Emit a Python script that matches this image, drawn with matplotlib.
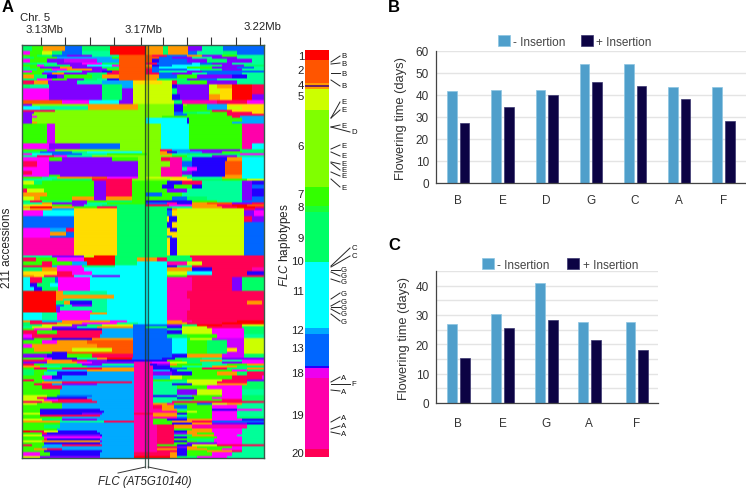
import numpy as np
import matplotlib
matplotlib.use("Agg")
import matplotlib.pyplot as plt
from matplotlib.colors import ListedColormap
from matplotlib.patches import Patch

plt.rcParams['font.family'] = ['Liberation Sans', 'DejaVu Sans']
plt.rcParams['mathtext.fontset'] = 'custom'
plt.rcParams['mathtext.it'] = 'Liberation Sans:italic'
plt.rcParams['mathtext.rm'] = 'Liberation Sans'

# ---------- data ----------
hap_palette = {
    'r': '#ff0000', 'o': '#ff5500', 'O': '#ff9900', 'y': '#ffdd00', 'l': '#ccff00',
    'g': '#80ff00', 'G': '#33ff00', 's': '#00ff66', 't': '#00ff99', 'c': '#00ffff',
    'b': '#00aaff', 'B': '#0066ff', 'd': '#2200ff', 'v': '#8000ff', 'p': '#cc00ff',
    'm': '#ff00ff', 'h': '#ff00aa', 'k': '#ff0055',
}
# each band: accessions in band, then run-length segments "<end marker><haplotype>"
hap_bands_top = [
    (3, "10s 21G 43O 60B 88s 124r 141O 146s 166O 180v 201t 242B"),
    (2, "8m 20G 30l 40s 60B 88t 124r 141O 146s 166O 175B 201t 215s 242B"),
    (1, "15G 30s 45B 70v 97t 124o 130o 145k 165B 180O 200v 215G 242t"),
    (1, "12s 35G 60b 90b 97G 124o 137o 150B 170v 190t 215v 242t"),
    (2, "8m 25G 42v 75p 97b 124o 130o 137d 165B 185v 205s 230v 242t"),
    (1, "15s 35t 60v 80m 97s 124o 135k 170B 178c 190B 210v 242t"),
    (1, "15G 22m 48s 65v 90c 97m 124o 130O 137d 150B 178c 200s 222v 242s"),
    (1, "8s 18G 38v 50O 80v 97s 124o 130o 137B 165c 190G 215v 232B 242t"),
    (1, "15s 30G 45m 70O 85v 97G 124o 130k 137B 165B 178c 200s 220v 242t"),
    (1, "10m 22G 35b 60t 80v 90d 97k 124o 130k 137B 165t 180v 215B 242B"),
    (1, "20G 30v 42O 65v 85s 97k 124o 137k 150B 170v 185t 220B 242t"),
    (2, "12O 25s 35d 42v 70G 80s 97O 124o 137O 155B 175G 210v 225d 242t"),
    (1, "15s 30m 45G 62v 75s 85t 97d 124o 135O 165s 178v 195B 215t 242t"),
    (2, "12k 26O 55v 80t 104b 111b 124y 140y 150l 155k 168s 185G 215v 242t"),
    (2, "8s 27t 40v 80v 100s 111b 124l 150l 155d 157v 187v 195l 210O 230r 242k"),
    (3, "27m 80v 100s 111v 124l 150l 155s 187v 198l 210y 230r 242k"),
    (3, "27m 80v 100s 111v 124l 150l 158d 187v 198O 210y 230r 242v"),
    (2, "40o 67m 97c 111v 124l 152l 160s 195h 225k 242m"),
    (1, "10v 66g 116O 124g 152g 161d 165g 185G 205b 242y"),
    (2, "18c 55t 66t 116O 124g 152g 161d 185G 205b 220l 242y"),
    (1, "33k 124g 152g 161d 190G 210k 242y"),
    (1, "12v 33g 124g 152g 161B 175s 188t 205G 230k 242y"),
    (1, "10v 124g 152g 165B 205G 220k 242k"),
    (1, "10v 15m 124g 140g 165G 210G 218k 242b"),
    (2, "10v 124g 139c 165c 167d 220G 242b"),
    (1, "10v 15O 124g 139c 165c 167d 210G 242b"),
    (10, "25G 33p 139g 167c 220G 242h"),
    (3, "27m 58v 98B 139g 167c 220G 230h 242c"),
    (1, "25G 33p 138g 150k 168b 218v 242s"),
    (1, "18s 50B 65t 120c 138g 145O 155d 180b 200v 220G 242s"),
    (1, "10m 30c 60B 85t 125G 138g 150O 165t 218s 242m"),
    (1, "15t 32k 45m 70t 95g 124g 150g 165G 190t 215v 242t"),
    (2, "27m 40G 60v 90v 116G 139g 148k 160h 170s 205d 220O 242c"),
    (3, "15k 27m 116v 139g 148g 160h 170B 203d 220o 242c"),
    (2, "27m 116v 139g 148h 160h 165t 175m 203d 220o 242c"),
    (2, "10k 27m 116v 139g 150h 160h 170v 203d 220o 242c"),
    (1, "27m 38G 116v 139g 150h 160h 170s 203d 220O 242c"),
    (1, "20G 35t 70O 85o 116m 124g 150l 165y 200t 220O 242c"),
    (1, "30t 70s 110k 116g 124g 148g 170y 200s 225G 242l"),
    (2, "12l 20s 72G 84v 110k 124G 145G 160d 180k 220t 230v 242d"),
    (2, "18G 72G 84v 110k 124G 140G 152d 170G 180d 220t 230v 242B"),
    (2, "5k 22l 72G 84v 110k 124G 145G 165v 180t 220t 230v 242d"),
    (2, "25O 50G 72G 84v 110k 124G 140B 160G 185t 220t 230v 242d"),
    (2, "12l 18O 50G 72O 84v 110O 124G 150G 165B 185s 220t 230v 242B"),
    (1, "8s 20k 50s 65v 85G 110s 124G 170d 195G 220t 242B"),
    (1, "20t 30O 48v 65v 85t 112G 124G 145B 155h 170d 185O 210o 230v 242k"),
    (1, "10l 30y 50G 62v 80t 112s 124s 147k 170m 195O 210k 225r 242o"),
    (1, "8O 30r 52O 75G 95k 124s 150s 170t 200O 215k 233r 242k"),
    (1, "8l 30O 52b 95y 124s 145s 150d 155O 222l 233k 242v"),
    (3, "21m 52c 95y 145s 150B 155y 222l 232v 242m"),
    (3, "52B 95y 145s 147y 155d 222l 230k 242v"),
    (3, "35B 52B 95y 145s 150d 155y 222l 242B"),
    (2, "28m 44b 52k 95y 145s 148y 155d 222l 242B"),
    (2, "28m 44O 52B 95y 145s 150y 155y 222l 242B"),
    (1, "28m 52B 95y 145s 150B 155y 222l 242B"),
    (9, "52h 95y 145s 148y 155d 222l 242B"),
]
hap_bands_mid = [
    (1, "30t 62v 72l 93r 115s 145s 168s 242k"),
    (2, "14k 35G 62m 93r 115s 135O 145k 170s 242k"),
    (2, "20G 30k 50G 65b 93r 115s 145c 165h 180l 242k"),
    (1, "30k 35b 60m 93s 115c 145c 155d 170t 242k"),
    (2, "20s 35O 62m 115c 145c 155O 170O 190d 230k 242h"),
    (2, "35y 50k 70m 115c 145c 165l 190c 225k 242d"),
    (1, "12O 22y 52k 70c 98v 115c 145c 165G 180k 242k"),
    (3, "8c 20k 33s 36B 68m 145c 170h 210k 220v 242s"),
    (2, "8c 15d 28s 36c 68m 145c 170h 210k 220v 242s"),
    (2, "12c 20d 30s 36s 68m 145c 170h 210k 220v 242s"),
    (2, "34r 41O 85t 145c 165h 242k"),
    (2, "34r 41O 92O 145c 165h 242k"),
    (1, "34r 41O 85t 145c 168h 242k"),
    (2, "34r 42s 48O 70d 85t 145c 168h 225k 240O 242k"),
    (1, "34r 42B 50t 70v 85t 145c 168h 242k"),
    (2, "34r 38v 70t 85t 145c 168h 242k"),
    (1, "34r 38v 70m 85t 145c 165h 242k"),
    (1, "20c 35t 68m 85O 145c 165h 242k"),
    (2, "20c 35t 68m 145c 165h 242k"),
    (1, "20c 35t 68m 95c 145c 165h 242k"),
    (1, "8O 20k 40b 88O 105m 116c 145c 160O 170h 215k 242r"),
    (1, "8s 35k 60O 95m 116t 145c 165O 200k 242r"),
    (1, "20s 50l 65v 80s 111l 124B 145B 160v 175s 200r 220k 242l"),
    (1, "10t 30l 55v 75t 111O 124B 145s 160d 185l 205k 220k 242s"),
    (1, "12G 30m 80d 111b 145B 160s 190l 222m 242s"),
    (2, "15k 35G 80k 111b 145B 160d 190l 222m 242s"),
    (2, "10m 40k 78k 111b 145B 165s 195G 222m 242t"),
    (1, "12v 30G 70d 111O 150B 165c 168s 190l 222p 242l"),
    (2, "20G 35m 65O 111o 150B 165c 185G 205s 222p 242l"),
    (2, "10m 35O 75O 111o 150B 165c 185G 205s 222p 242l"),
    (2, "12G 50O 90l 111o 150B 165c 185G 205s 215y 222p 242l"),
    (1, "30G 45d 111o 150B 165c 185G 205s 222p 242l"),
    (2, "25v 45d 70G 111k 150B 165d 200O 222p 242s"),
]
hap_bands_low = [
    (1, "22G 30m 55d 75t 85O 110r 140B 153d 180s 200t 242v"),
    (1, "25k 50O 65k 85v 112d 145d 160G 178s 200O 220t 242m"),
    (1, "25v 55O 70m 112v 130h 148m 165l 180s 200t 220v 242m"),
    (1, "12k 22G 60s 80v 112t 128h 135d 148v 155O 180G 205t 225G 242O"),
    (1, "18O 38t 65s 112b 131h 148d 160G 190t 215O 242s"),
    (1, "12G 25k 40G 80k 112O 131h 150d 165B 180G 205k 225s 242O"),
    (1, "12s 25G 65b 85O 112O 131h 148b 155d 170s 210G 225m 242s"),
    (2, "12s 22G 35t 65d 112b 131h 150v 170d 195G 215O 225s 242k"),
    (2, "20G 30m 40d 112b 131h 148b 160l 210G 240k 242m"),
    (1, "12k 22G 80b 112b 131h 150G 165s 200l 225k 242v"),
    (1, "20G 40O 110k 112b 131h 165t 195l 225k 242s"),
    (1, "12G 30k 40b 75v 112b 131h 150t 170d 195l 225O 242s"),
    (2, "20G 40k 112b 131h 155t 185G 220m 242s"),
    (3, "22G 38G 75b 112b 131h 155t 175v 200l 220m 242t"),
    (1, "25l 35G 70B 112b 131h 155d 170t 200G 220m 242s"),
    (1, "15l 25k 65d 112b 131h 155t 172d 190G 220m 242s"),
    (1, "22l 36m 70k 112b 131h 155t 170s 200G 220k 242s"),
    (1, "20k 30O 75k 112b 131h 150t 242k"),
    (1, "15l 40G 112b 131h 145O 152h 165G 175G 190B 205l 220O 242t"),
    (2, "22G 40G 112b 131h 140k 152O 165B 190G 215m 242t"),
    (1, "18G 22d 78d 112b 131h 140h 155O 165t 190G 215d 240m 242t"),
    (1, "18G 60d 82d 112b 131h 155h 165G 175l 190G 215m 242t"),
    (1, "18l 60d 80v 112b 131k 155O 165d 190G 215m 242t"),
    (1, "18G 25k 78k 112b 131h 155O 165t 190G 215m 242t"),
    (1, "18G 40G 112b 131h 155h 165B 190G 215m 242s"),
    (1, "20l 40s 75v 112b 131h 145G 165d 190O 220m 242d"),
    (1, "20O 38O 82t 85k 112k 131h 150G 170O 190k 215B 242B"),
    (1, "20G 38G 65b 112b 131h 150G 170d 190O 210v 225v 242d"),
    (2, "22G 38s 80b 112b 135h 152k 170O 225h 242t"),
    (1, "22G 35G 80b 112b 135h 152k 170G 190O 220m 242t"),
    (1, "8r 22k 36l 75d 112b 135h 152k 165d 190O 220m 242t"),
    (1, "20G 25k 78d 112b 135h 152k 165v 175O 192G 220m 242t"),
    (1, "20l 78v 80d 112b 135h 152k 170s 192O 215m 242t"),
    (1, "22G 80m 112b 135h 152k 165d 195G 220m 242t"),
    (1, "22G 25k 78d 112b 135h 152k 165G 192s 220m 242t"),
    (1, "20l 78O 80v 112b 135h 152k 165d 175G 192s 220m 242t"),
    (1, "22G 78d 82b 112b 135h 152k 165G 195v 220m 242t"),
    (1, "10k 22G 40b 80k 112b 135h 155G 170d 195l 242k"),
    (1, "20G 35b 78b 112b 135h 155k 165v 175O 210G 220m 242t"),
    (1, "12G 25O 40k 80b 112b 135h 155O 165d 185O 200G 220m 242t"),
    (1, "22G 30d 80d 112b 135h 155k 165d 185G 210O 220k 242t"),
    (2, "18m 28G 78d 112b 148k 155O 165d 190G 210m 242t"),
    (1, "18l 78v 112b 148r 155O 175s 205m 242t"),
]
heat_tick_labels = ["3.13Mb", "3.17Mb", "3.22Mb"]

strip_sizes = [5, 12, 1, 1, 1, 11, 40, 10, 3, 26, 34, 3, 17, 1, 5, 37, 4]
strip_colors = ['#ff0000', '#ff5500', '#ff9900', '#6a2060', '#ff9900', '#ccff00', '#80ff00',
                '#33ff00', '#19ff33', '#00ff66', '#00ffff', '#00aaff', '#0066ff', '#2200ff',
                '#ee00ee', '#ff00aa', '#ff0055']
strip_numbers = ["1", "2", "4", "5", "6", "7", "8", "9", "10", "11", "12", "13", "18", "19", "20"]

hap_letters = list("BBBBEEEDEEEEEECCGGGGGGGGAFAAAA")

cats_b = ["B", "E", "D", "G", "C", "A", "F"]
minus_b = [42, 42.3, 42.3, 54, 54, 43.5, 43.5]
plus_b = [27.5, 34.7, 40, 45.7, 44.3, 38.3, 28]

cats_c = ["B", "E", "G", "A", "F"]
minus_c = [26.8, 30.2, 41, 27.7, 27.7]
plus_c = [15.3, 25.5, 28.2, 21.5, 18]

# ---------- layout (pixel positions) ----------
W, H = 746, 489
strip_num_y = [57, 71, 86, 97, 147, 195, 208, 239, 262, 292, 331, 349, 374, 416, 454]
hap_label_y = [57, 64, 74, 87, 103, 111, 126, 133, 146, 157, 165, 171, 177, 188,
               249, 257, 271, 277, 283, 294, 302, 308, 315, 322, 378, 385, 392, 418, 427, 435]
hap_anchor_y = [63, 65, 74, 81, 119, 119, 128, 128, 150, 153, 163, 164, 173, 180,
                267, 268, 271, 273, 280, 300, 307, 308, 310, 315, 383, 385, 391, 423, 430, 433]
heat_ticks_px = [41, 65, 90, 114, 141, 163, 187, 211, 236, 260]

fig = plt.figure(figsize=(W / 100, H / 100), dpi=100)


def ax_px(l, t, r, b, **kw):
    return fig.add_axes([l / W, 1 - b / H, (r - l) / W, (b - t) / H], **kw)


# ---------- A: haplotype matrix ----------
keys = list(hap_palette)
bands = hap_bands_top + hap_bands_mid + hap_bands_low
n_cols = 242
rows = []
for n, spec in bands:
    row = np.zeros(n_cols, dtype=int)
    start = 0
    for tok in spec.split():
        end, code = int(tok[:-1]), tok[-1]
        row[start:end] = keys.index(code)
        start = end
    rows.extend([row] * n)
matrix = np.array(rows)

# RGB cells so that the smoothing blends neighbouring colours, not palette indices
rgb = np.array([matplotlib.colors.to_rgb(hap_palette[k]) for k in keys])[matrix]

ax = ax_px(22, 46, 264, 459)
ax.imshow(rgb, aspect='auto', interpolation='bilinear', extent=(0, n_cols, matrix.shape[0], 0))
ax.set_xticks([])
ax.set_yticks([])
for s in ax.spines.values():
    s.set_color('#3a5a4a')
    s.set_linewidth(1.0)
ax.axvspan(123, 126, color='black', alpha=0.12, lw=0)

# ---------- strip ----------
sx = ax_px(305, 51, 329, 458)
strip_vals = np.repeat(np.arange(len(strip_sizes)), strip_sizes)[:, None]
sx.imshow(strip_vals, cmap=ListedColormap(strip_colors), aspect='auto', interpolation='nearest',
          vmin=0, vmax=len(strip_colors) - 1)
sx.axis('off')

# ---------- overlay ----------
ov = fig.add_axes([0, 0, 1, 1], facecolor='none')
ov.set_xlim(0, W)
ov.set_ylim(H, 0)
ov.axis('off')
ink = '#222222'
for x in heat_ticks_px:
    ov.plot([x, x], [38, 46], color='#333333', lw=0.8, solid_capstyle='butt')
for x in (145.3, 148.2):
    ov.plot([x, x], [46, 469], color='#1c3a30', lw=0.9, alpha=0.8, solid_capstyle='butt')
ov.plot([118, 145.3], [474, 468], color='#333333', lw=0.7)
ov.plot([148.2, 177], [468, 474], color='#333333', lw=0.7)

ov.text(2, 7, "A", fontsize=12, fontweight='bold', va='center', color='black')
ov.text(388, 7, "B", fontsize=12, fontweight='bold', va='center', color='black')
ov.text(388, 246, "C", fontsize=12, fontweight='bold', va='center', color='black')
ov.text(20, 18, "Chr. 5", fontsize=8.2, va='center', color=ink)
ov.text(44, 30, heat_tick_labels[0], fontsize=8.2, ha='center', va='center', color=ink)
ov.text(143, 30, heat_tick_labels[1], fontsize=8.2, ha='center', va='center', color=ink)
ov.text(262, 27, heat_tick_labels[2], fontsize=8.2, ha='center', va='center', color=ink)
ov.text(7, 248, "211 accessions", fontsize=8.5, rotation=90, ha='center', va='center', color=ink)
ov.text(285, 245, r"$\mathit{FLC}$ haplotypes", fontsize=8.5, rotation=90, ha='center', va='center', color=ink)
ov.text(145, 482, "FLC (AT5G10140)", fontsize=8.3, style='italic', ha='center', va='center', color=ink)

for lab, y in zip(strip_numbers, strip_num_y):
    ov.text(304, y, lab, fontsize=8.2, ha='right', va='center', color=ink)
for letter, ya, yl in zip(hap_letters, hap_anchor_y, hap_label_y):
    xt = 354 if letter in "DFC" else 344
    ov.text(xt, yl, letter, fontsize=5.6, ha='center', va='center', color='#111111')
    ov.plot([331, xt - 4], [ya, yl], color='#222222', lw=0.7)


# ---------- B, C ----------
def bars(axx, cats, pos, minus, plus, ymax, major, minor_grid, anchor, colsp, xpad, ylab_x):
    w = 0.22
    d = 0.143
    axx.set_axisbelow(True)
    axx.bar(np.array(pos) - d, minus, w, color='#4f9fcb', edgecolor='#8cc4e2', lw=0.5)
    axx.bar(np.array(pos) + d, plus, w, color='#0c0344', edgecolor='#3a3670', lw=0.5)
    axx.set_ylim(0, ymax)
    axx.set_yticks(major)
    axx.set_yticks(minor_grid, minor=True)
    axx.set_xticks(pos, cats)
    axx.yaxis.grid(True, which='both', color='#e4e4e4', lw=1.0)
    axx.tick_params(axis='both', which='both', length=0, colors='#333333', labelsize=8.5)
    axx.tick_params(axis='x', pad=xpad)
    axx.tick_params(axis='y', pad=5)
    for s in ('top', 'right'):
        axx.spines[s].set_visible(False)
    for s in ('left', 'bottom'):
        axx.spines[s].set_color('#444444')
        axx.spines[s].set_linewidth(0.9)
    axx.set_ylabel("Flowering time (days)", fontsize=9.3, color='#333333')
    bbox = axx.get_position()
    axx.yaxis.set_label_coords((ylab_x / W - bbox.x0) / bbox.width, 0.5)
    h = [Patch(facecolor='#4f9fcb', edgecolor='#8cc4e2', lw=0.5),
         Patch(facecolor='#0c0344', edgecolor='#3a3670', lw=0.5)]
    axx.legend(h, ["- Insertion", "+ Insertion"], ncol=2, frameon=False, fontsize=8.5,
               labelcolor='#444444', handlelength=1.0, handleheight=1.0, handletextpad=0.3,
               columnspacing=colsp, loc='center left', bbox_to_anchor=anchor, bbox_transform=fig.transFigure,
               borderaxespad=0, borderpad=0)


ab = ax_px(436, 52, 746, 184)
bars(ab, cats_b, np.arange(7), minus_b, plus_b, 60, np.arange(0, 61, 10), [],
     (498 / W, 1 - 42.5 / H), 1.3, 8, 407)
ab.set_xlim(-0.505, 6.51)

ac = ax_px(436, 272, 658, 404)
pos_c = [0, 1, 1.99, 2.96, 4.03]
bars(ac, cats_c, pos_c, minus_c, plus_c, 45, np.arange(0, 41, 10), np.arange(5, 46, 10),
     (482 / W, 1 - 265.5 / H), 1.5, 10, 410)
ac.set_xlim(-0.505, 4.51)

fig.savefig("out.png", dpi=100)
